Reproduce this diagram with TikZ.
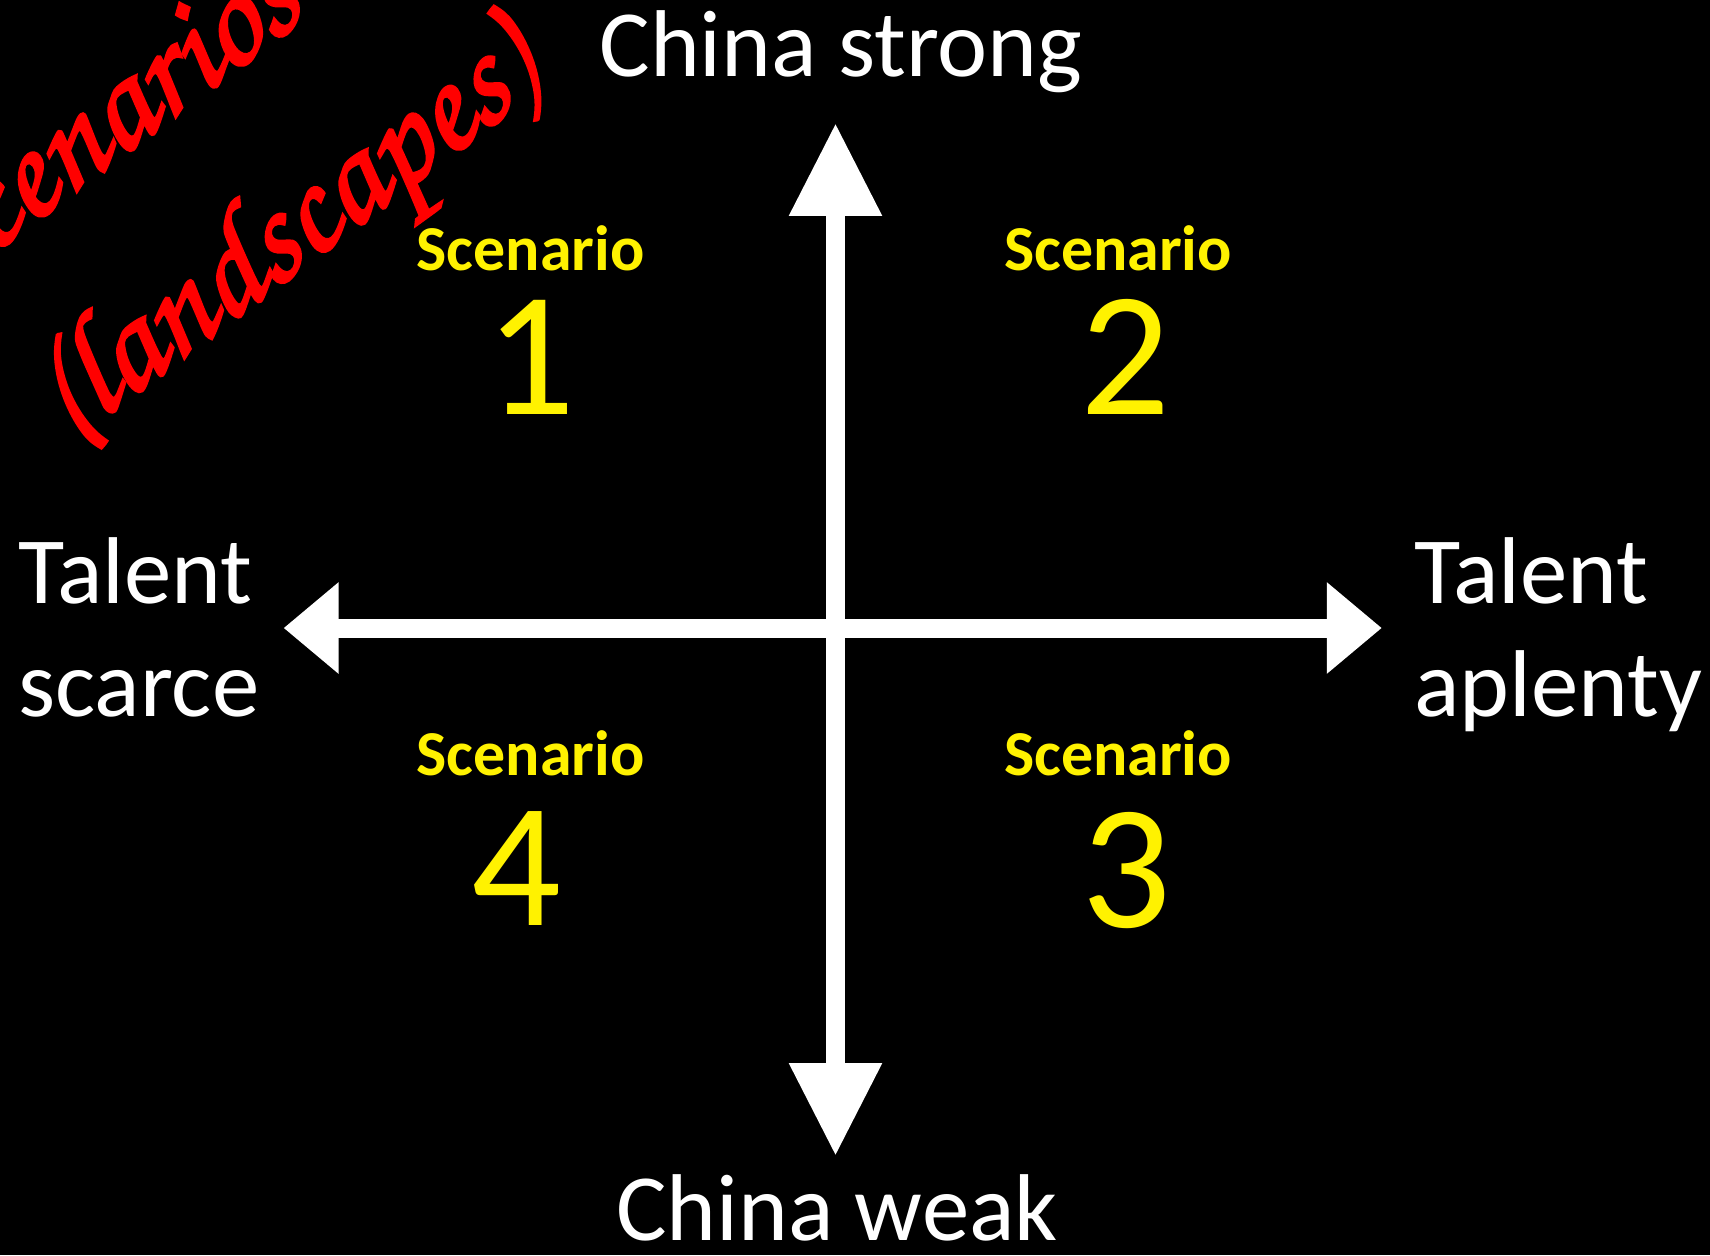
\documentclass[tikz,border=0pt]{standalone}
\usepackage{fontspec}
\setmainfont{Carlito}
\newfontfamily\handfont[FakeBold=2]{texgyrechorus-mediumitalic.otf}
\usetikzlibrary{arrows.meta}

\begin{document}
\begin{tikzpicture}[x=0.02cm, y=-0.02cm,
	axisline/.style={white, line width=0.38cm},
	vtip/.tip={Triangle[width=1.76cm, length=1.86cm]},
	htip/.tip={Triangle[width=1.76cm, length=1.1cm]},
	axislabel/.style={white, font=\fontsize{54}{64}\selectfont},
	scenlabel/.style={yellow, font=\bfseries\fontsize{36.4}{40}\selectfont, anchor=base},
	scennum/.style={yellow, font=\fontsize{101}{110}\selectfont, anchor=base},
	scribble/.style={red, font=\handfont\fontsize{80}{90}\selectfont, rotate=37}]
	\fill[black] (0,0) rectangle (1710,1255);
	\useasboundingbox (0,0) rectangle (1710,1255);
	% axes
	\coordinate (north) at (835.5,123);
	\coordinate (south) at (835.5,1156);
	\coordinate (west) at (283.6,628);
	\coordinate (east) at (1381.8,628);
	\draw[axisline, htip-htip] (west) -- (east);
	\draw[axisline, vtip-vtip] (south) -- (north);
	% axis labels
	\node[axislabel, anchor=base] (strong) at (841,76) {China strong};
	\node[axislabel, anchor=base] (weak) at (837,1240) {China weak};
	\node[axislabel, anchor=base west] (scarce1) at (12,603) {Talent};
	\node[axislabel, anchor=base west] (scarce2) at (12,716.5) {scarce};
	\node[axislabel, anchor=base west] (aplenty1) at (1408,603) {Talent};
	\node[axislabel, anchor=base west] (aplenty2) at (1408,716.5) {aplenty};
	% quadrants
	\node[scenlabel] (s1) at (530.6,270.5) {Scenario};
	\node[scennum] (n1) at (530,414.5) {1};
	\node[scenlabel] (s2) at (1118,270.5) {Scenario};
	\node[scennum] (n2) at (1125.5,414.5) {2};
	\node[scenlabel] (s3) at (1118,775.5) {Scenario};
	\node[scennum] (n3) at (1126.5,927) {3};
	\node[scenlabel] (s4) at (530.6,775.5) {Scenario};
	\node[scennum] (n4) at (516,925) {4};
	% handwritten note
	\begin{scope}
		\clip (0,0) rectangle (1710,1255);
		\node[scribble] (note1) at (100,124) {Scenarios};
		\node[scribble] (note2) at (289,240) {(landscapes)};
	\end{scope}
\end{tikzpicture}
\end{document}
